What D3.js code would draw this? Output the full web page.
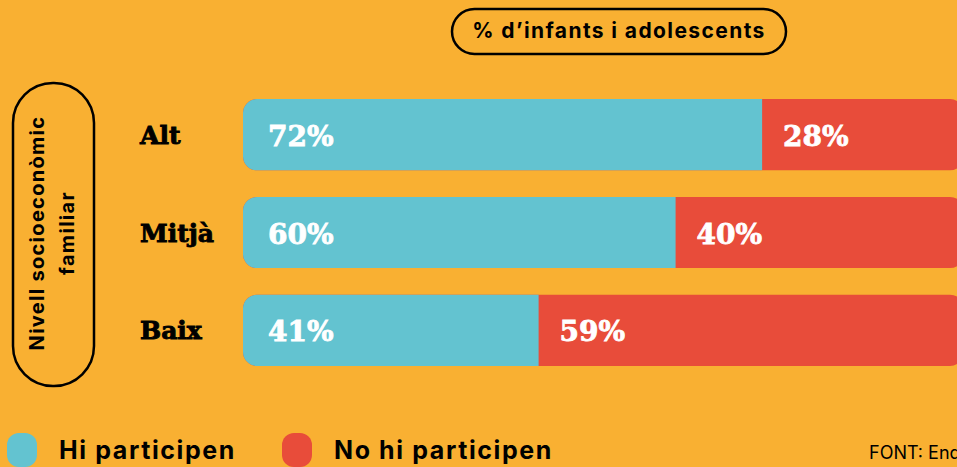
<!DOCTYPE html>
<html>
<head>
<meta charset="utf-8">
<script src="https://cdn.jsdelivr.net/npm/d3@7"></script>
<style>
  body { margin: 0; background: #F9B032; overflow: hidden; }
  svg { display: block; }
</style>
</head>
<body>
<div id="chart"></div>
<script>
var categories = ["Alt", "Mitjà", "Baix"]
var participen = [72, 60, 41]
var noParticipen = [28, 40, 59]
var seriesNames = ["Hi participen", "No hi participen"]

var width = 957, height = 467
var blue = "#63C3D0", red = "#E84C3A"
var serif = "'DejaVu Serif', serif"
var sans = "Inter, 'Open Sans', sans-serif"

var svg = d3.select("#chart").append("svg")
    .attr("width", width)
    .attr("height", height)

var x = d3.scaleLinear().domain([0, 100]).range([243, 964])
var y = d3.scaleBand().domain(categories).range([85.75, 379.25]).paddingInner(0.272).paddingOuter(0.136)

var data = categories.map(function(c, i) {
  return {cat: c, hi: participen[i], no: noParticipen[i]}
})

var rows = svg.selectAll(".row").data(data).enter().append("g").attr("class", "row")

// full bar in red, then blue on top with rounded left end
rows.append("rect")
  .attr("x", x(0))
  .attr("y", function(d) { return y(d.cat) })
  .attr("width", function(d) { return x(d.hi + d.no) - x(0) })
  .attr("height", y.bandwidth())
  .attr("rx", 14)
  .attr("fill", red)

rows.append("path")
  .attr("fill", blue)
  .attr("d", function(d) {
    var x0 = x(0), x1 = x(d.hi), y0 = y(d.cat), h = y.bandwidth(), r = 14
    return "M" + (x0 + r) + "," + y0 + "H" + x1 + "V" + (y0 + h) + "H" + (x0 + r) +
      "A" + r + "," + r + " 0 0 1 " + x0 + "," + (y0 + h - r) +
      "V" + (y0 + r) + "A" + r + "," + r + " 0 0 1 " + (x0 + r) + "," + y0 + "Z"
  })

function valueText(sel) {
  sel.attr("y", function(d) { return y(d.cat) + y.bandwidth() / 2 + 11 })
    .attr("fill", "#fff").attr("stroke", "#fff").attr("stroke-width", 0.8)
    .style("font-family", serif).style("font-weight", "bold").style("font-size", "28px")
}

rows.append("text")
  .attr("x", x(0) + 25)
  .call(valueText)
  .text(function(d) { return d.hi + "%" })

rows.append("text")
  .attr("x", function(d) { return x(d.hi) + 21 })
  .call(valueText)
  .text(function(d) { return d.no + "%" })

rows.append("text")
  .attr("x", 140)
  .attr("y", function(d) { return y(d.cat) + y.bandwidth() / 2 + 9 })
  .attr("fill", "#000").attr("stroke", "#000").attr("stroke-width", 0.9)
  .style("font-family", serif).style("font-weight", "bold").style("font-size", "25px")
  .text(function(d) { return d.cat })

// title pill
svg.append("rect")
  .attr("x", 452).attr("y", 9).attr("width", 334).attr("height", 45).attr("rx", 22.5)
  .attr("fill", "none").attr("stroke", "#000").attr("stroke-width", 2.5)
svg.append("text")
  .attr("x", 619).attr("y", 38).attr("text-anchor", "middle")
  .style("font-family", sans).style("font-weight", "bold").style("font-size", "21px")
  .style("letter-spacing", "1.4px")
  .text("% d’infants i adolescents")

// y axis title pill
svg.append("rect")
  .attr("x", 13).attr("y", 83).attr("width", 81).attr("height", 303).attr("rx", 40)
  .attr("fill", "none").attr("stroke", "#000").attr("stroke-width", 2.5)
var yt = svg.append("text")
  .attr("transform", "translate(52,233) rotate(-90)")
  .attr("text-anchor", "middle")
  .style("font-family", sans).style("font-weight", "bold").style("font-size", "20px")
  .style("letter-spacing", "1.3px")
yt.append("tspan").attr("x", 0).attr("y", -8).text("Nivell socioeconòmic")
yt.append("tspan").attr("x", 0).attr("y", 22).text("familiar")

// legend
var legend = svg.selectAll(".leg").data(seriesNames).enter().append("g")
  .attr("class", "leg")
  .attr("transform", function(d, i) { return "translate(" + [7, 282][i] + ",0)" })
legend.append("rect")
  .attr("x", 0).attr("y", 433).attr("width", 30).attr("height", 34).attr("rx", 12)
  .attr("fill", function(d, i) { return [blue, red][i] })
legend.append("text")
  .attr("x", 52).attr("y", 459)
  .style("font-family", sans).style("font-weight", "bold").style("font-size", "25px")
  .style("letter-spacing", "1.6px")
  .text(function(d) { return d })

svg.append("text")
  .attr("x", 869).attr("y", 459)
  .style("font-family", sans).style("font-size", "18px")
  .text("FONT: Enquesta")
</script>
</body>
</html>
